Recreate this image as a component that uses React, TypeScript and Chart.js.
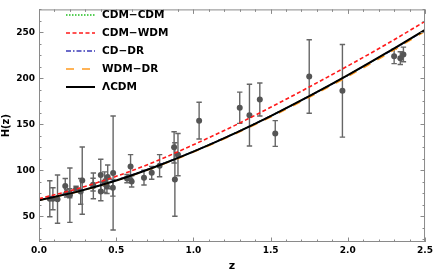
import React, { useEffect, useRef } from "react";
import { Chart, registerables } from "chart.js";

Chart.register(...registerables);

// Observational H(z) data
const zObs = [0.07, 0.09, 0.12, 0.17, 0.179, 0.199, 0.2, 0.24, 0.27, 0.28, 0.35, 0.352, 0.4, 0.4004, 0.425, 0.43, 0.44, 0.445, 0.4783, 0.48, 0.57, 0.593, 0.6, 0.68, 0.73, 0.781, 0.875, 0.88, 0.9, 1.037, 1.3, 1.363, 1.43, 1.53, 1.75, 1.965, 2.3, 2.34, 2.36];
const hObs = [69, 69, 68.6, 83, 75, 75, 72.9, 79.7, 77, 88.8, 84.4, 83, 95, 77, 87.1, 86.5, 82.6, 92.8, 80.9, 97, 91, 104, 87.9, 92, 97.3, 105, 125, 90, 117, 154, 168, 160, 177, 140, 202, 186.5, 224, 222, 226];
const hErr = [19.6, 12, 26.2, 8, 4, 5, 29.6, 3, 14, 36.6, 7, 14, 17, 10.2, 11.2, 3.7, 7.8, 12.9, 9, 62, 4.5, 13, 6.1, 8, 7, 12, 17, 40, 23, 20, 17, 33.6, 18, 14, 40, 50.4, 8, 7, 8];

// Model curves sampled in z
const zModel = [0, 0.25, 0.5, 0.75, 1.0, 1.25, 1.5, 1.75, 2.0, 2.25, 2.5];
const hCdmCdm = [67.6, 77.0, 89.1, 103.8, 120.5, 139.0, 159.1, 180.7, 203.5, 227.5, 252.6];
const hCdmWdm = [69.1, 80.0, 93.4, 109.3, 127.8, 147.3, 168.5, 190.6, 213.5, 237.1, 262.0];
const hCdDr = [67.8, 77.2, 89.3, 103.9, 120.5, 139.0, 159.0, 180.5, 203.3, 227.3, 252.3];
const hWdmDr = [67.5, 76.8, 88.8, 103.3, 119.8, 138.1, 157.9, 179.3, 202.0, 226.0, 251.2];
const hLCDM = [67.4, 76.8, 88.9, 103.6, 120.3, 138.8, 159.0, 180.6, 203.5, 227.6, 252.8];

const xTicks = [0, 0.5, 1.0, 1.5, 2.0, 2.5];
const yTicks = [50, 100, 150, 200, 250];

const FONT = "'DejaVu Sans', sans-serif";

const pts = (ys: number[]) => zModel.map((z, i) => ({ x: z, y: ys[i] }));

const plotPlugin = {
  id: "plotDecor",
  beforeDatasetsDraw(chart: any) {
    const { ctx, chartArea: a, scales } = chart;
    const xs = scales.x, ys = scales.y;
    ctx.save();
    ctx.beginPath();
    ctx.rect(a.left, a.top, a.right - a.left, a.bottom - a.top);
    ctx.clip();
    ctx.strokeStyle = "#666666";
    ctx.lineWidth = 1.4;
    for (let i = 0; i < zObs.length; i++) {
      const x = xs.getPixelForValue(zObs[i]);
      const y1 = ys.getPixelForValue(hObs[i] - hErr[i]);
      const y2 = ys.getPixelForValue(hObs[i] + hErr[i]);
      ctx.beginPath();
      ctx.moveTo(x, y1);
      ctx.lineTo(x, y2);
      ctx.moveTo(x - 2.7, y1);
      ctx.lineTo(x + 2.7, y1);
      ctx.moveTo(x - 2.7, y2);
      ctx.lineTo(x + 2.7, y2);
      ctx.stroke();
    }
    ctx.restore();
  },
  afterDraw(chart: any) {
    const { ctx, chartArea: a, scales } = chart;
    const xs = scales.x, ys = scales.y;
    ctx.save();
    // frame
    ctx.strokeStyle = "#8a8a8a";
    ctx.lineWidth = 1;
    ctx.strokeRect(a.left + 0.5, a.top + 0.5, a.right - a.left - 1, a.bottom - a.top - 1);
    // x ticks
    ctx.beginPath();
    for (let k = 0; k <= 25; k++) {
      const v = k / 10;
      const x = Math.round(xs.getPixelForValue(v)) + 0.5;
      const len = k % 5 === 0 ? 4.5 : 2.5;
      ctx.moveTo(x, a.bottom);
      ctx.lineTo(x, a.bottom - len);
      ctx.moveTo(x, a.top);
      ctx.lineTo(x, a.top + len);
    }
    // y ticks
    for (let v = 25; v <= 275; v += 12.5) {
      if (v < ys.min || v > ys.max) continue;
      const y = Math.round(ys.getPixelForValue(v)) + 0.5;
      const len = v % 50 === 0 ? 4.5 : 2.5;
      ctx.moveTo(a.left, y);
      ctx.lineTo(a.left + len, y);
      ctx.moveTo(a.right, y);
      ctx.lineTo(a.right - len, y);
    }
    ctx.stroke();

    // axis titles
    ctx.fillStyle = "#000";
    ctx.font = `bold 11px ${FONT}`;
    ctx.textAlign = "center";
    ctx.textBaseline = "middle";
    ctx.fillText("z", (a.left + a.right) / 2, 266);
    ctx.save();
    ctx.translate(6.5, (a.top + a.bottom) / 2);
    ctx.rotate(-Math.PI / 2);
    ctx.font = `bold 10px ${FONT}`;
    ctx.fillText("H(z)", 0, 0);
    ctx.restore();

    // legend
    const items = chart.data.datasets.filter((d: any) => d.legendRow !== undefined)
      .sort((p: any, q: any) => p.legendRow - q.legendRow);
    ctx.font = `bold 10.5px ${FONT}`;
    ctx.textAlign = "left";
    items.forEach((d: any, i: number) => {
      const y = 15 + i * 18;
      ctx.save();
      ctx.strokeStyle = d.borderColor;
      ctx.lineWidth = d.borderWidth;
      ctx.setLineDash(d.legendDash || d.borderDash || []);
      ctx.beginPath();
      ctx.moveTo(66, y);
      ctx.lineTo(95, y);
      ctx.stroke();
      ctx.restore();
      ctx.fillStyle = "#000";
      ctx.fillText(d.label, 102, y + 0.5);
    });
    ctx.restore();
  },
};

export default function App() {
  const ref = useRef<HTMLCanvasElement | null>(null);
  useEffect(() => {
    document.body.style.margin = "0";
    if (!ref.current) return;
    const lineCommon = {
      type: "line",
      pointRadius: 0,
      fill: false,
      cubicInterpolationMode: "monotone",
    };
    const chart = new Chart(ref.current, {
      type: "line",
      data: {
        datasets: [
          { ...lineCommon, label: "CDM\u2212WDM", data: pts(hCdmWdm), borderColor: "#ff1a1a", borderWidth: 1.6, borderDash: [4, 2.5], order: 0, legendRow: 1 },
          { ...lineCommon, label: "\u039BCDM", data: pts(hLCDM), borderColor: "#000000", borderWidth: 2, order: 1, legendRow: 4 },
          { ...lineCommon, label: "CD\u2212DR", data: pts(hCdDr), borderColor: "#3a3ab8", borderWidth: 1.5, borderDash: [5, 2, 1.5, 2], order: 3, legendRow: 2 },
          { ...lineCommon, label: "WDM\u2212DR", data: pts(hWdmDr), borderColor: "#ff9a1f", borderWidth: 1.6, borderDash: [8, 8], order: 2, legendRow: 3 },
          { ...lineCommon, label: "CDM\u2212CDM", data: pts(hCdmCdm), borderColor: "#1fbf1f", borderWidth: 1.5, borderDash: [1.5, 1.5], order: 4, legendRow: 0 },
          {
            type: "scatter",
            label: "data",
            data: zObs.map((z, i) => ({ x: z, y: hObs[i] })),
            pointRadius: 3,
            pointBackgroundColor: "#555555",
            pointBorderWidth: 0,
            borderColor: "#555555",
            showLine: false,
            order: 10,
          },
        ] as any,
      },
      options: {
        responsive: false,
        animation: false,
        layout: { padding: { left: 0, top: 3, right: 9, bottom: 0 } },
        plugins: { legend: { display: false }, tooltip: { enabled: false } },
        scales: {
          x: {
            type: "linear",
            min: 0,
            max: 2.5,
            grid: { display: false, drawTicks: false },
            border: { display: false },
            afterBuildTicks: (s: any) => { s.ticks = xTicks.map((v) => ({ value: v })); },
            afterFit: (s: any) => { s.height = 33; },
            ticks: {
              padding: 3,
              color: "#000",
              font: { family: FONT, size: 9, weight: "bold" },
              callback: (v: any) => Number(v).toFixed(1),
              maxRotation: 0,
            },
          },
          y: {
            type: "linear",
            min: 22,
            max: 275,
            grid: { display: false, drawTicks: false },
            border: { display: false },
            afterBuildTicks: (s: any) => { s.ticks = yTicks.map((v) => ({ value: v })); },
            afterFit: (s: any) => { s.width = 39; },
            ticks: {
              padding: 4,
              color: "#000",
              font: { family: FONT, size: 9, weight: "bold" },
              callback: (v: any) => String(v),
            },
          },
        },
      } as any,
      plugins: [plotPlugin],
    });
    return () => chart.destroy();
  }, []);
  return <canvas ref={ref} width={436} height={275} style={{ display: "block" }} />;
}
